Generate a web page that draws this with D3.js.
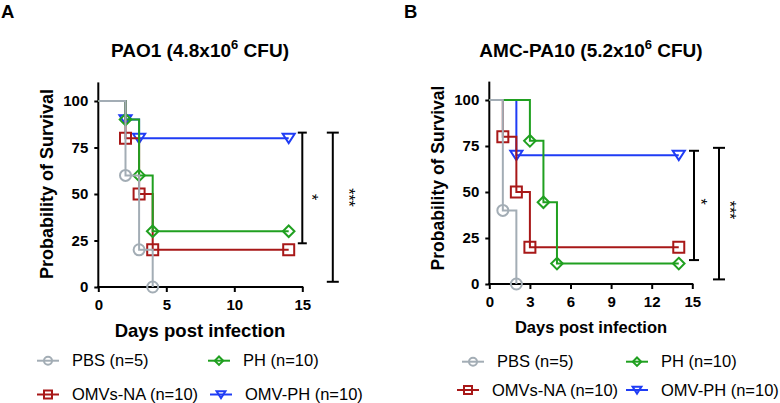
<!DOCTYPE html>
<html>
<head>
<meta charset="utf-8">
<script src="https://cdn.jsdelivr.net/npm/d3@7"></script>
<style>
  body { margin: 0; background: #fff; }
  svg { display: block; font-family: Arial, "Liberation Sans", sans-serif; }
</style>
</head>
<body>
<div id="graph"></div>
<script>
// group names and colours (legend order)
var groups = ["PBS (n=5)", "PH (n=10)", "OMVs-NA (n=10)", "OMV-PH (n=10)"];
var groupKeys = ["pbs", "ph", "omvna", "omvph"];

// panel A: PAO1 - days of event and survival (%) after the event
var daysA_pbs = [0, 2, 3, 4];
var survA_pbs = [100, 60, 20, 0];
var daysA_omvna = [0, 2, 3, 4, 14];
var survA_omvna = [100, 80, 50, 20, 20];
var daysA_ph = [0, 2, 3, 4, 14];
var survA_ph = [100, 90, 60, 30, 30];
var daysA_omvph = [0, 2, 3, 14];
var survA_omvph = [100, 90, 80, 80];

// panel B: AMC-PA10
var daysB_pbs = [0, 1, 2];
var survB_pbs = [100, 40, 0];
var daysB_omvna = [0, 1, 2, 3, 14];
var survB_omvna = [100, 80, 50, 20, 20];
var daysB_ph = [0, 3, 4, 5, 14];
var survB_ph = [100, 77.8, 44.4, 11.1, 11.1];
var daysB_omvph = [0, 2, 14];
var survB_omvph = [100, 70, 70];

var yTicks = [0, 25, 50, 75, 100];
var xTicksA = [0, 5, 10, 15];
var xTicksB = [0, 3, 6, 9, 12, 15];

// significance brackets: [low, high] in % survival
var sigA = [[23.5, 83], [2.8, 83]];
var sigB = [[13, 72.4], [2.5, 74]];
var sigLabels = ["*", "***"];

var colors = { pbs: "#a3adb5", omvna: "#a81818", ph: "#20a020", omvph: "#1f3cf5" };
var shapes = { pbs: "circle", omvna: "square", ph: "diamond", omvph: "triangle" };

var width = 780, height = 403;
var svg = d3.select("#graph").append("svg")
    .attr("width", width)
    .attr("height", height);

function symbolPath(shape, s) {
    var h = s / 2;
    if (shape === "circle") {
        return "M" + (-h) + ",0a" + h + "," + h + " 0 1,0 " + s + ",0a" + h + "," + h + " 0 1,0 " + (-s) + ",0Z";
    }
    if (shape === "square") {
        return "M" + (-h) + "," + (-h) + "h" + s + "v" + s + "h" + (-s) + "Z";
    }
    if (shape === "diamond") {
        return "M0," + (-h * 1.05) + "L" + (h * 1.05) + ",0L0," + (h * 1.05) + "L" + (-h * 1.05) + ",0Z";
    }
    // downward triangle
    return "M" + (-h * 1.1) + "," + (-h * 0.8) + "L" + (h * 1.1) + "," + (-h * 0.8) + "L0," + (h * 0.9) + "Z";
}

function drawPanel(cfg) {
    var g = svg.append("g");
    var x = d3.scaleLinear().domain([0, 15]).range(cfg.xRange);
    var y = d3.scaleLinear().domain([0, 100]).range(cfg.yRange);

    // panel letter
    g.append("text").attr("x", cfg.letterX).attr("y", 17.5)
        .attr("font-size", 18.5).attr("font-weight", "bold").text(cfg.letter);

    // title with superscript
    var t = g.append("text").attr("x", cfg.titleX).attr("y", 57)
        .attr("text-anchor", "middle").attr("font-size", 19).attr("font-weight", "bold");
    t.append("tspan").text(cfg.titleA);
    t.append("tspan").attr("dy", -8).attr("font-size", 13).text("6");
    t.append("tspan").attr("dy", 8).text(" CFU)");

    // y axis
    var yAxis = d3.axisLeft(y).tickValues(yTicks).tickSize(4).tickPadding(6);
    var ya = g.append("g").attr("transform", "translate(" + x(0) + ",0)").call(yAxis);
    ya.select(".domain").remove();
    ya.append("line").attr("x1", 0).attr("x2", 0)
        .attr("y1", y(0)).attr("y2", y(110))
        .attr("stroke", "#000").attr("stroke-width", 2);
    ya.selectAll(".tick line").attr("stroke-width", 2);
    ya.selectAll(".tick text").attr("font-size", 15).attr("font-weight", "bold")
        .attr("fill", "#000").attr("font-family", "Arial, 'Liberation Sans', sans-serif");

    // x axis
    var xAxis = d3.axisBottom(x).tickValues(cfg.xTicks).tickSize(5).tickPadding(7);
    var xa = g.append("g").attr("transform", "translate(0," + y(0) + ")").call(xAxis);
    xa.select(".domain").remove();
    xa.append("line").attr("x1", x(0) - 1).attr("x2", x(15) + 1)
        .attr("y1", 0).attr("y2", 0)
        .attr("stroke", "#000").attr("stroke-width", 2);
    xa.selectAll(".tick line").attr("stroke-width", 2);
    xa.selectAll(".tick text").attr("font-size", 15).attr("font-weight", "bold")
        .attr("fill", "#000").attr("font-family", "Arial, 'Liberation Sans', sans-serif");

    // axis titles
    g.append("text")
        .attr("transform", "translate(" + cfg.yLabelX + "," + cfg.yLabelY + ") rotate(-90)")
        .attr("text-anchor", "middle").attr("font-size", cfg.yLabelSize).attr("font-weight", "bold")
        .text("Probability of Survival");
    g.append("text").attr("x", cfg.titleX).attr("y", cfg.xLabelY)
        .attr("text-anchor", "middle").attr("font-size", cfg.xLabelSize).attr("font-weight", "bold")
        .text("Days post infection");

    // survival curves
    var line = d3.line().curve(d3.curveStepAfter)
        .x(function (d) { return x(d[0]); })
        .y(function (d) { return y(d[1]); });

    cfg.order.forEach(function (k) {
        var pts = cfg.days[k].map(function (d, i) { return [d, cfg.surv[k][i]]; });
        var sg = g.append("g");
        sg.append("path").attr("d", line(pts))
            .attr("fill", "none").attr("stroke", colors[k]).attr("stroke-width", 2);
        sg.selectAll("path.sym").data(pts.slice(1)).enter().append("path")
            .attr("class", "sym")
            .attr("transform", function (d) { return "translate(" + x(d[0]) + "," + y(d[1]) + ")"; })
            .attr("d", symbolPath(shapes[k], 11))
            .attr("fill", "none").attr("stroke", colors[k]).attr("stroke-width", 2);
    });

    // significance brackets
    cfg.sig.forEach(function (s, i) {
        var bx = x(15) + cfg.sigOffsets[i];
        var cap = cfg.sigCaps[i];
        var bg = g.append("g").attr("stroke", "#000").attr("stroke-width", 2);
        bg.append("line").attr("x1", bx).attr("x2", bx).attr("y1", y(s[0])).attr("y2", y(s[1]));
        bg.append("line").attr("x1", bx - cap).attr("x2", bx + cap).attr("y1", y(s[0])).attr("y2", y(s[0]));
        bg.append("line").attr("x1", bx - cap).attr("x2", bx + cap).attr("y1", y(s[1])).attr("y2", y(s[1]));
        var lx = bx + cfg.sigLabelDx[i];
        var ly = cfg.sigLabelY[i];
        g.append("text")
            .attr("transform", "translate(" + lx + "," + ly + ") rotate(90)")
            .attr("text-anchor", "middle").attr("font-size", 16)
            .text(sigLabels[i]);
    });

    // legend
    var lg = g.append("g");
    cfg.legend.forEach(function (L, i) {
        var k = groupKeys[i];
        var row = lg.append("g").attr("transform", "translate(" + L[0] + "," + L[1] + ")");
        row.append("line").attr("x1", 0).attr("x2", 22).attr("y1", 0).attr("y2", 0)
            .attr("stroke", colors[k]).attr("stroke-width", 2);
        row.append("path").attr("transform", "translate(11,0)")
            .attr("d", symbolPath(shapes[k], 8))
            .attr("fill", "none").attr("stroke", colors[k]).attr("stroke-width", 2);
        row.append("text").attr("x", 35).attr("y", 5.5)
            .attr("font-size", 16.5).text(groups[i]);
    });
}

drawPanel({
    letter: "A", letterX: 1, titleX: 200, titleA: "PAO1 (4.8x10",
    xRange: [98.3, 302.3], yRange: [287, 101], xTicks: xTicksA,
    yLabelX: 53, yLabelY: 184, yLabelSize: 18, xLabelY: 337, xLabelSize: 18.5,
    order: ["omvph", "omvna", "ph", "pbs"],
    days: { pbs: daysA_pbs, omvna: daysA_omvna, ph: daysA_ph, omvph: daysA_omvph },
    surv: { pbs: survA_pbs, omvna: survA_omvna, ph: survA_ph, omvph: survA_omvph },
    sig: sigA, sigOffsets: [0, 30.5], sigCaps: [4.5, 6], sigLabelDx: [4, 10], sigLabelY: [197, 197.5],
    legend: [[37, 360.7], [208, 360.7], [37, 394.5], [210, 394.5]]
});

drawPanel({
    letter: "B", letterX: 404, titleX: 591, titleA: "AMC-PA10 (5.2x10",
    xRange: [489.3, 692.3], yRange: [284, 100], xTicks: xTicksB,
    yLabelX: 444, yLabelY: 178, yLabelSize: 17.5, xLabelY: 332.5, xLabelSize: 16.5,
    order: ["omvph", "omvna", "ph", "pbs"],
    days: { pbs: daysB_pbs, omvna: daysB_omvna, ph: daysB_ph, omvph: daysB_omvph },
    surv: { pbs: survB_pbs, omvna: survB_omvna, ph: survB_ph, omvph: survB_omvph },
    sig: sigB, sigOffsets: [1.7, 26.7], sigCaps: [5, 6], sigLabelDx: [0.5, 5], sigLabelY: [201.7, 210],
    legend: [[462, 361.7], [626, 361.7], [457, 390], [626, 390]]
});
</script>
</body>
</html>
